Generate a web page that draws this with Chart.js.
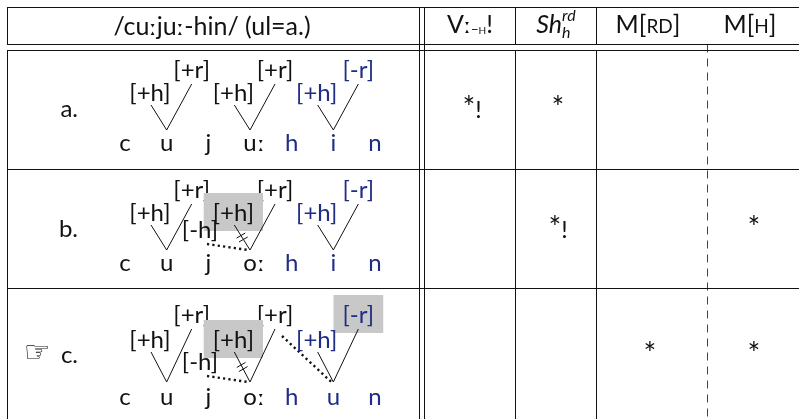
<!DOCTYPE html>
<html>
<head>
<meta charset="utf-8">
<script src="https://cdn.jsdelivr.net/npm/chart.js@4"></script>
<style>
html, body { margin: 0; padding: 0; background: #fff; }
#wrap { width: 799px; height: 419px; }
</style>
</head>
<body>
<div id="wrap"><canvas id="tableau" width="799" height="419"></canvas></div>
<script>
// tableau contents
const inputForm = '/cuːjuː-hin/ (ul=a.)';
const constraints = ['Vː-H!', 'Sh-rd-h', 'M[RD]', 'M[H]'];
const candidates = ['a.', 'b.', 'c.'];
const winner = 2;
const violations = [
    ['*!', '*', '', ''],
    ['', '*!', '', '*'],
    ['', '', '*', '*']
];
const segments = [
    ['c', 'u', 'j', 'uː', 'h', 'i', 'n'],
    ['c', 'u', 'j', 'oː', 'h', 'i', 'n'],
    ['c', 'u', 'j', 'oː', 'h', 'u', 'n']
];
const suffixFrom = 4; // h i n / h u n is the suffix

// features: [label, slot, tier, suffix, boxed]
const features = [
    [['[+h]', 0.6, 'low'], ['[+r]', 1.6, 'high'], ['[+h]', 2.6, 'low'], ['[+r]', 3.6, 'high'],
     ['[+h]', 4.6, 'low', true], ['[-r]', 5.6, 'high', true]],
    [['[+h]', 0.6, 'low'], ['[+r]', 1.6, 'high'], ['[-h]', 1.8, 'mid'], ['[+h]', 2.6, 'low', false, true],
     ['[+r]', 3.6, 'high'], ['[+h]', 4.6, 'low', true], ['[-r]', 5.6, 'high', true]],
    [['[+h]', 0.6, 'low'], ['[+r]', 1.6, 'high'], ['[-h]', 1.8, 'mid'], ['[+h]', 2.6, 'low', false, true],
     ['[+r]', 3.6, 'high'], ['[+h]', 4.6, 'low', true], ['[-r]', 5.6, 'high', true, true]]
];
// links: [feature, segment, kind]
const links = [
    [[0, 1, 'solid'], [1, 1, 'solid'], [2, 3, 'solid'], [3, 3, 'solid'], [4, 5, 'solid'], [5, 5, 'solid']],
    [[0, 1, 'solid'], [1, 1, 'solid'], [2, 3, 'dotted'], [3, 3, 'blocked'], [4, 3, 'solid'],
     [5, 5, 'solid'], [6, 5, 'solid']],
    [[0, 1, 'solid'], [1, 1, 'solid'], [2, 3, 'dotted'], [3, 3, 'blocked'], [4, 3, 'solid'],
     [4, 5, 'dotted'], [5, 5, 'solid'], [6, 5, 'solid']]
];

// layout
const INK = '#111';
const BLUE = '#1f2d85';
const GREY_BOX = '#c8c8c8';
const FONT = 'Lato, "DejaVu Sans", sans-serif';
const SIZE = 24;
const hLines = [7.5, 44.5, 50.5, 169.5, 288.5];
const colCenters = [470, 556, 648, 750];
const segBase = [151, 271, 405];
const labelBase = [117, 237, 363];
const tierY = [
    { high: -73, low: -50, mid: -33, apex: -21 },
    { high: -73, low: -50, mid: -33, apex: -21 },
    { high: -82, low: -57, mid: -35, apex: -23 }
];
const slotX = s => 125 + s * 41.67;

function line(x1, y1, x2, y2, extra) {
    return Object.assign({
        data: [{ x: x1, y: y1 }, { x: x2, y: y2 }],
        showLine: true,
        borderColor: INK,
        borderWidth: 1,
        pointRadius: 0,
        fill: false
    }, extra || {});
}

const datasets = [];

// table rules
hLines.forEach(y => datasets.push(line(7, y, 799, y)));
[7.5, 515.5, 596.5].forEach(x => {
    datasets.push(line(x, 7, x, 44.5));
    datasets.push(line(x, 50.5, x, 419));
});
[419.5, 424.5].forEach(x => datasets.push(line(x, 7, x, 419)));
datasets.push(line(707.5, 44.5, 707.5, 419, { borderDash: [8, 6], borderColor: '#444' }));

// association lines
function featBase(r, f) {
    return segBase[r] + tierY[r][f[2]];
}
links.forEach((rowLinks, r) => {
    rowLinks.forEach(([fi, si, kind]) => {
        const f = features[r][fi];
        const fx = slotX(f[1]);
        const by = featBase(r, f);
        let x1, y1;
        if (kind === 'dotted') {
            x1 = fx + 7;
            y1 = by + (f[2] === 'high' ? 13 : 6);
        } else {
            x1 = fx + (f[2] === 'low' ? 1 : 0);
            y1 = by + (f[2] === 'low' ? 4 : 6);
        }
        const x2 = slotX(si);
        const y2 = segBase[r] + tierY[r].apex;
        if (kind === 'dotted') {
            datasets.push(line(x1, y1, x2 - 2, y2, { borderWidth: 2.4, borderDash: [2.2, 3.2] }));
            return;
        }
        datasets.push(line(x1, y1, x2, y2));
        if (kind === 'blocked') {
            const len = Math.hypot(x2 - x1, y2 - y1);
            const ux = (x2 - x1) / len, uy = (y2 - y1) / len;
            const mx = (x1 + x2) / 2, my = (y1 + y2) / 2;
            const dx = 0.87, dy = -0.5;
            [-2.3, 2.3].forEach(o => {
                const cx = mx + ux * o, cy = my + uy * o;
                datasets.push(line(cx - 5 * dx, cy - 5 * dy, cx + 5 * dx, cy + 5 * dy));
            });
        }
    });
});

// text helpers: a run is [text, size, dy, italic, stackWithNext, family]
function fontOf(p) {
    return (p[3] ? 'italic ' : '') + p[1] + 'px ' + (p[5] || FONT);
}
function runs(ctx, x, y, parts, align) {
    let total = 0;
    parts.forEach(p => {
        ctx.font = fontOf(p);
        p.w = ctx.measureText(p[0]).width;
    });
    for (let i = 0; i < parts.length; i++) {
        if (parts[i][4]) { total += Math.max(parts[i].w, parts[i + 1].w); i++; }
        else total += parts[i].w;
    }
    let cx = align === 'center' ? x - total / 2 : x;
    ctx.textAlign = 'left';
    for (let i = 0; i < parts.length; i++) {
        const p = parts[i];
        ctx.font = fontOf(p);
        ctx.fillText(p[0], cx, y + (p[2] || 0));
        if (p[4]) {
            const q = parts[i + 1];
            ctx.font = fontOf(q);
            ctx.fillText(q[0], cx, y + (q[2] || 0));
            cx += Math.max(p.w, q.w);
            i++;
        } else cx += p.w;
    }
}
// length mark in a font that draws it as two triangles
const LONG = '"DejaVu Sans"';
function splitLong(str, size) {
    return str.split(/(ː)/).filter(s => s).map(s =>
        s === 'ː' ? [s, size - 3, 0, false, false, LONG] : [s, size]);
}

const headerRuns = [
    [['V', 25], ['ː', 21, 0, false, false, LONG], ['−', 13, 1], ['H', 10, 1], ['!', 25]],
    [['Sh', 25, 0, true], ['rd', 16, -12, true, true], ['h', 16, 5, true]],
    [['M[', 25], ['RD', 19], [']', 25]],
    [['M[', 25], ['H', 19], [']', 25]]
];

const tableauText = {
    id: 'tableauText',
    beforeDatasetsDraw(chart) {
        const ctx = chart.ctx;
        const X = v => chart.scales.x.getPixelForValue(v);
        const Y = v => chart.scales.y.getPixelForValue(v);
        ctx.save();
        ctx.textBaseline = 'alphabetic';
        ctx.font = SIZE + 'px ' + FONT;
        features.forEach((row, r) => {
            // high tier labels sit under the grey boxes
            row.forEach(f => {
                if (f[2] !== 'high' || f[4]) return;
                ctx.fillStyle = f[3] ? BLUE : INK;
                ctx.textAlign = 'center';
                ctx.fillText(f[0], X(slotX(f[1])), Y(featBase(r, f)));
            });
            row.forEach(f => {
                if (!f[4]) return;
                const w = ctx.measureText(f[0]).width;
                const fx = slotX(f[1]), by = featBase(r, f);
                const x0 = X(fx - w / 2 - 9), x1 = X(fx + w / 2 + 9);
                const y0 = Y(by - 28), y1 = Y(by + 10);
                ctx.fillStyle = GREY_BOX;
                ctx.fillRect(x0, y0, x1 - x0, y1 - y0);
            });
        });
        ctx.restore();
    },
    afterDatasetsDraw(chart) {
        const ctx = chart.ctx;
        const X = v => chart.scales.x.getPixelForValue(v);
        const Y = v => chart.scales.y.getPixelForValue(v);
        ctx.save();
        ctx.textBaseline = 'alphabetic';
        ctx.fillStyle = INK;
        runs(ctx, X(212), Y(35), splitLong(inputForm, 25), 'center');
        constraints.forEach((c, i) => {
            runs(ctx, X(colCenters[i]), Y(33), headerRuns[i].map(p => p.slice()), 'center');
        });
        candidates.forEach((cand, r) => {
            ctx.fillStyle = INK;
            ctx.font = SIZE + 'px ' + FONT;
            ctx.textAlign = 'right';
            ctx.fillText(cand, X(78), Y(labelBase[r]));
            if (r === winner) {
                ctx.textAlign = 'left';
                ctx.font = '30px "DejaVu Sans"';
                ctx.fillText('☞', X(24), Y(labelBase[r] - 1));
            }
            violations[r].forEach((v, i) => {
                if (!v) return;
                const parts = v.split('').map(ch => ch === '*' ? ['*', 30] : [ch, SIZE]);
                runs(ctx, X(i === 3 ? 754 : colCenters[i] + 2), Y(labelBase[r] + 1), parts, 'center');
            });
            segments[r].forEach((s, i) => {
                ctx.fillStyle = i >= suffixFrom ? BLUE : INK;
                const base = s.replace('ː', '');
                const sx = X(slotX(i));
                ctx.font = SIZE + 'px ' + FONT;
                ctx.textAlign = 'center';
                ctx.fillText(base, sx, Y(segBase[r]));
                if (s.length > base.length) {
                    const bw = ctx.measureText(base).width;
                    ctx.textAlign = 'left';
                    ctx.font = (SIZE - 3) + 'px ' + LONG;
                    ctx.fillText('ː', sx + bw / 2 + 1, Y(segBase[r]));
                }
            });
            ctx.font = SIZE + 'px ' + FONT;
            features[r].forEach(f => {
                if (f[2] === 'high' && !f[4]) return;
                ctx.fillStyle = f[3] ? BLUE : INK;
                ctx.textAlign = 'center';
                ctx.fillText(f[0], X(slotX(f[1])), Y(featBase(r, f)));
            });
        });
        ctx.restore();
    }
};

new Chart(document.getElementById('tableau'), {
    type: 'scatter',
    data: { datasets: datasets },
    options: {
        responsive: false,
        animation: false,
        devicePixelRatio: 1,
        layout: { padding: 0 },
        plugins: { legend: { display: false }, tooltip: { enabled: false } },
        scales: {
            x: { type: 'linear', min: 0, max: 799, display: false },
            y: { type: 'linear', min: 0, max: 419, reverse: true, display: false }
        }
    },
    plugins: [tableauText]
});
</script>
</body>
</html>
